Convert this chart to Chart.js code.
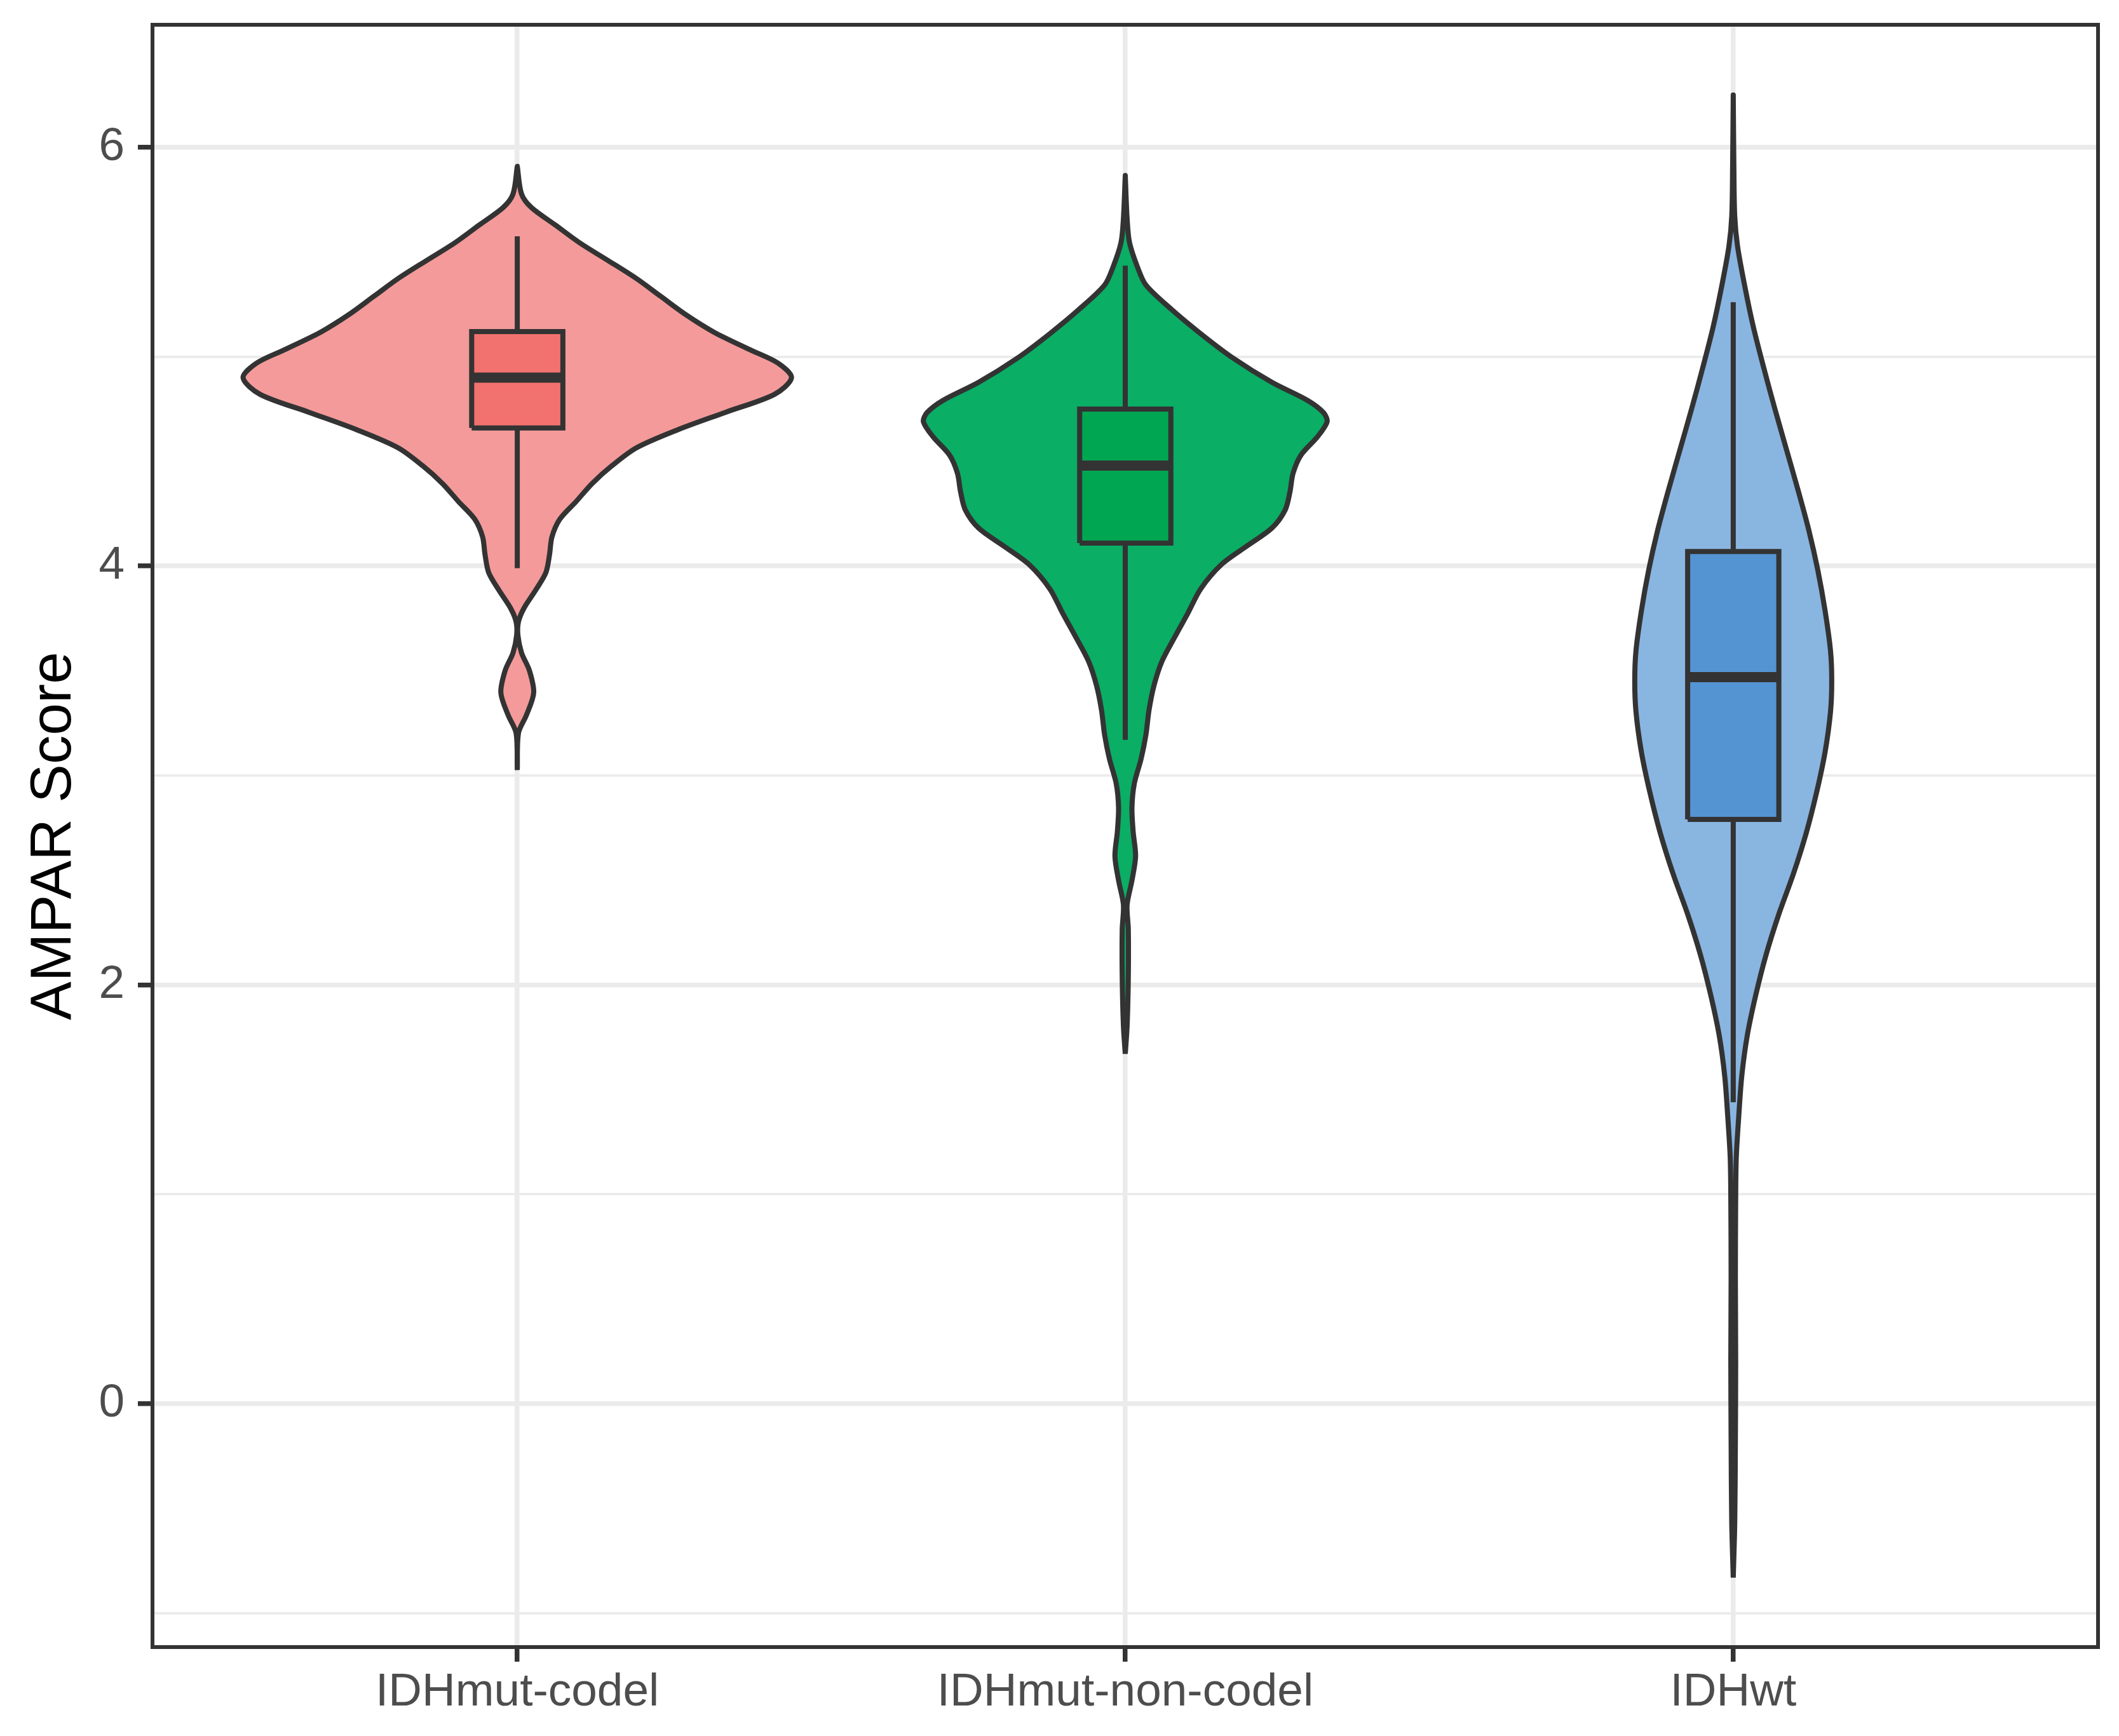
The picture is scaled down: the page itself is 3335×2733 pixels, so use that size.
<!DOCTYPE html>
<html>
<head>
<meta charset="utf-8">
<script src="https://cdn.jsdelivr.net/npm/chart.js@4/dist/chart.umd.min.js"></script>
<style>
  html,body{margin:0;padding:0;background:#fff}
  #wrap{width:3335px;height:2733px;position:relative}
</style>
</head>
<body>
<div id="wrap"><canvas id="chart"></canvas></div>
<script>
// categories and axis ticks
const categories = ['IDHmut-codel', 'IDHmut-non-codel', 'IDHwt'];
const xTickValues = [1, 2, 3];
const yTickValues = [-1, 0, 1, 2, 3, 4, 5, 6];
const yMajorTicks = [0, 2, 4, 6];

// violin outlines: score (bottom -> top) and half width (category units)
const codelScore = [3.026, 3.203, 3.288, 3.395, 3.501, 3.586, 3.671, 3.735, 3.799, 3.884, 3.969, 4.054, 4.139, 4.224, 4.309, 4.394, 4.480, 4.565, 4.650, 4.735, 4.820, 4.899, 4.969, 5.033, 5.118, 5.203, 5.288, 5.373, 5.458, 5.543, 5.628, 5.713, 5.777, 5.909];
const codelWidth = [0, 0.002, 0.015, 0.027, 0.020, 0.007, 0.001, 0.002, 0.011, 0.030, 0.047, 0.053, 0.057, 0.070, 0.097, 0.123, 0.156, 0.196, 0.263, 0.343, 0.423, 0.451, 0.429, 0.383, 0.323, 0.276, 0.236, 0.196, 0.150, 0.103, 0.063, 0.023, 0.007, 0];

const noncodelScore = [1.671, 1.802, 2.034, 2.266, 2.382, 2.499, 2.615, 2.731, 2.847, 2.963, 3.079, 3.195, 3.311, 3.427, 3.543, 3.659, 3.775, 3.891, 4.007, 4.094, 4.181, 4.268, 4.356, 4.443, 4.530, 4.617, 4.689, 4.733, 4.791, 4.878, 4.994, 5.110, 5.226, 5.342, 5.429, 5.545, 5.661, 5.865];
const noncodelWidth = [0, 0.003, 0.005, 0.005, 0.003, 0.011, 0.017, 0.013, 0.011, 0.015, 0.026, 0.034, 0.039, 0.047, 0.060, 0.081, 0.103, 0.124, 0.158, 0.199, 0.241, 0.263, 0.271, 0.276, 0.289, 0.316, 0.332, 0.326, 0.300, 0.241, 0.177, 0.124, 0.076, 0.034, 0.020, 0.007, 0.003, 0];

const wtScore = [-0.830, -0.564, -0.177, 0.210, 0.597, 0.984, 1.177, 1.370, 1.564, 1.757, 1.951, 2.144, 2.338, 2.531, 2.725, 2.918, 3.111, 3.305, 3.450, 3.595, 3.788, 3.982, 4.175, 4.369, 4.562, 4.756, 4.949, 5.143, 5.336, 5.529, 5.674, 5.916, 6.250];
const wtWidth = [0, 0.0025, 0.0035, 0.004, 0.0035, 0.004, 0.005, 0.009, 0.014, 0.023, 0.037, 0.054, 0.075, 0.099, 0.120, 0.137, 0.151, 0.160, 0.162, 0.160, 0.151, 0.139, 0.124, 0.106, 0.087, 0.068, 0.050, 0.033, 0.019, 0.007, 0.0024, 0.001, 0];

// box plot stats per category
const boxLow    = [3.99, 3.17, 1.44];
const boxQ1     = [4.66, 4.11, 2.79];
const boxMedian = [4.90, 4.48, 3.47];
const boxQ3     = [5.12, 4.75, 4.07];
const boxHigh   = [5.575, 5.435, 5.26];

const violinFill = ['#F49A9A', '#0AAE65', '#89B5E1'];
const boxFill = ['#F2726F', '#00A652', '#5594D2'];
const ink = '#333333';
const BOX_HALF = 0.075;
const LW = 8;

function violinPoints(c, score, width){
  const right = score.map((s,i)=>({x:c+width[i], y:s}));
  const left = score.map((s,i)=>({x:c-width[i], y:s})).reverse();
  return right.concat(left);
}

const violins = [[codelScore, codelWidth], [noncodelScore, noncodelWidth], [wtScore, wtWidth]];
const datasets = [];
violins.forEach(([s,w], i)=>{
  const c = xTickValues[i];
  datasets.push({ data: violinPoints(c, s, w), showLine:true, fill:'shape', backgroundColor:violinFill[i],
    borderColor:ink, borderWidth:LW, tension:0.3, pointRadius:0, borderJoinStyle:'round', order:4 });
  datasets.push({ data:[{x:c,y:boxHigh[i]},{x:c,y:boxQ3[i]}], showLine:true, borderColor:ink, borderWidth:LW, pointRadius:0, order:3 });
  datasets.push({ data:[{x:c,y:boxQ1[i]},{x:c,y:boxLow[i]}], showLine:true, borderColor:ink, borderWidth:LW, pointRadius:0, order:3 });
  datasets.push({ data:[{x:c-BOX_HALF,y:boxQ1[i]},{x:c+BOX_HALF,y:boxQ1[i]},{x:c+BOX_HALF,y:boxQ3[i]},{x:c-BOX_HALF,y:boxQ3[i]},{x:c-BOX_HALF,y:boxQ1[i]}],
    showLine:true, fill:'shape', backgroundColor:boxFill[i], borderColor:ink, borderWidth:LW, tension:0, pointRadius:0, borderJoinStyle:'miter', order:2 });
  datasets.push({ data:[{x:c-BOX_HALF,y:boxMedian[i]},{x:c+BOX_HALF,y:boxMedian[i]}], showLine:true, borderColor:ink, borderWidth:16, pointRadius:0, order:1 });
});

const panelBorder = {
  id:'panelBorder',
  afterDraw(chart){
    const a = chart.chartArea, ctx = chart.ctx;
    ctx.save(); ctx.strokeStyle = ink; ctx.lineWidth = 6;
    ctx.strokeRect(a.left, a.top, a.right-a.left, a.bottom-a.top);
    ctx.restore();
  }
};

const tickFont = {family:'"Liberation Sans", Arial, sans-serif', size:73};

new Chart(document.getElementById('chart'), {
  type:'scatter',
  data:{datasets},
  options:{
    responsive:true, maintainAspectRatio:false, devicePixelRatio:1, animation:false,
    layout:{padding:{top:39, right:33, left:0, bottom:0}},
    plugins:{legend:{display:false}, tooltip:{enabled:false}},
    scales:{
      x:{
        type:'linear', min:0.4, max:3.6,
        afterBuildTicks(scale){ scale.ticks = xTickValues.map(v=>({value:v})); },
        afterFit(scale){ scale.height = 140; scale.paddingLeft = 0; scale.paddingRight = 0; },
        grid:{color:'#EBEBEB', lineWidth:7.5, drawTicks:true, tickLength:23, tickColor:ink, tickWidth:7.5},
        border:{display:false},
        ticks:{font:tickFont, color:'#4D4D4D', padding:5, maxRotation:0, autoSkip:false,
          callback:(v)=>categories[xTickValues.indexOf(v)] || ''}
      },
      y:{
        type:'linear', min:-1.162, max:6.585,
        afterBuildTicks(scale){ scale.ticks = yTickValues.map(v=>({value:v})); },
        afterFit(scale){ scale.width = 240; scale.paddingTop = 0; scale.paddingBottom = 0; },
        grid:{color:'#EBEBEB', lineWidth:(ctx)=>yMajorTicks.includes(ctx.tick.value)?7.5:3.75,
          drawTicks:true, tickLength:23, tickWidth:7.5,
          tickColor:(ctx)=>yMajorTicks.includes(ctx.tick.value)?ink:'rgba(0,0,0,0)'},
        border:{display:false},
        ticks:{font:tickFont, color:'#4D4D4D', padding:21,
          callback:(v)=>yMajorTicks.includes(v)?String(v):''},
        title:{display:true, text:'AMPAR Score', color:'#000',
          font:{family:'"Liberation Sans", Arial, sans-serif', size:91}, padding:{top:31, bottom:0}}
      }
    }
  },
  plugins:[panelBorder]
});
</script>
</body>
</html>
